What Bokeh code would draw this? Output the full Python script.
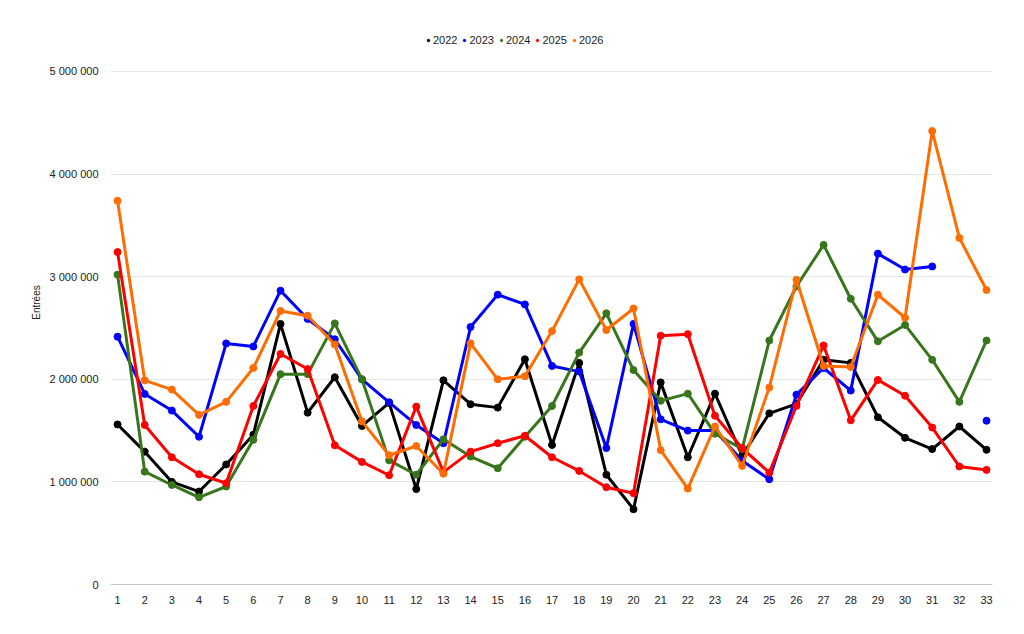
import numpy as np
from bokeh.plotting import figure
from bokeh.models import (ColumnDataSource, Legend, LegendItem, CustomJSTickFormatter,
                          FixedTicker, Range1d)
from bokeh.embed import file_html
from bokeh.resources import INLINE

weeks = list(range(1, 34))
years = ["2022", "2023", "2024", "2025", "2026"]
colors = ["#000000", "#0000ff", "#38761d", "#ff0000", "#ff6d01"]

s2022 = [1.56, 1.295, 1.0, 0.906, 1.17, 1.46, 2.54, 1.675, 2.02, 1.545, 1.77, 0.93, 1.99, 1.757, 1.724, 2.195, 1.36,
         2.16, 1.07, 0.734, 1.97, 1.24, 1.86, 1.255, 1.668, 1.76, 2.19, 2.16, 1.63, 1.43, 1.32, 1.54, 1.313]
s2023 = [2.415, 1.857, 1.695, 1.44, 2.35, 2.32, 2.864, 2.588, 2.39, 2.0, 1.776, 1.555, 1.377, 2.51, 2.825, 2.73, 2.13,
         2.075, 1.33, 2.54, 1.61, 1.50, 1.50, 1.205, 1.026, 1.85, 2.11, 1.89, 3.225, 3.07, 3.10, None, 1.596]
s2024 = [3.02, 1.10, 0.97, 0.85, 0.955, 1.41, 2.05, 2.05, 2.545, 2.0, 1.21, 1.07, 1.415, 1.247, 1.133, 1.44, 1.74,
         2.26, 2.643, 2.09, 1.79, 1.86, 1.47, 1.32, 2.378, 2.905, 3.31, 2.785, 2.37, 2.53, 2.19, 1.78, 2.378]
s2025 = [3.24, 1.555, 1.24, 1.075, 0.987, 1.74, 2.247, 2.10, 1.357, 1.195, 1.065, 1.734, 1.095, 1.295, 1.377, 1.45,
         1.24, 1.107, 0.948, 0.89, 2.425, 2.44, 1.645, 1.33, 1.09, 1.74, 2.33, 1.60, 1.994, 1.84, 1.53, 1.15, 1.117]
s2026 = [3.74, 1.99, 1.90, 1.653, 1.78, 2.11, 2.666, 2.62, 2.34, 1.59, 1.26, 1.35, 1.08, 2.35, 2.0, 2.03, 2.47,
         2.974, 2.48, 2.69, 1.31, 0.935, 1.54, 1.156, 1.92, 2.97, 2.13, 2.12, 2.824, 2.60, 4.42, 3.378, 2.87]
series = [s2022, s2023, s2024, s2025, s2026]
y_ticks = [0, 1000000, 2000000, 3000000, 4000000, 5000000]

FONT = "Liberation Sans"

# frame spans from legend area down to the zero line; 5 000 000 sits 51px below the frame top
p = figure(width=1008, height=618, output_backend="svg", toolbar_location=None,
           x_range=Range1d(0.74, 33.22), y_range=Range1d(0, 5497000),
           min_border_left=110, min_border_right=16, min_border_top=20, min_border_bottom=34)
p.outline_line_color = None
p.background_fill_color = "white"
p.border_fill_color = "white"

items = []
for yr, col, vals in zip(years, colors, series):
    yv = [np.nan if v is None else v * 1e6 for v in vals]
    src = ColumnDataSource(dict(x=weeks, y=yv))
    p.line("x", "y", source=src, line_color=col, line_width=3)
    r = p.scatter("x", "y", source=src, size=7, fill_color=col, line_color=col)
    items.append(LegendItem(label=yr, renderers=[r]))

# axes
p.xaxis.ticker = FixedTicker(ticks=weeks)
p.xaxis.major_tick_line_color = None
p.xaxis.minor_tick_line_color = None
p.xaxis.axis_line_color = "#c8c8c8"
p.xaxis.major_label_text_font = FONT
p.xaxis.major_label_text_font_size = "11px"
p.xaxis.major_label_text_color = "#222222"
p.xaxis.major_label_standoff = 5
p.xgrid.grid_line_color = None

p.yaxis.ticker = FixedTicker(ticks=y_ticks)
p.yaxis.formatter = CustomJSTickFormatter(code="""
return Math.round(tick).toString().replace(/\\B(?=(\\d{3})+(?!\\d))/g, ' ');
""")
p.yaxis.axis_line_color = None
p.yaxis.major_tick_line_color = None
p.yaxis.minor_tick_line_color = None
p.yaxis.major_label_text_font = FONT
p.yaxis.major_label_text_font_size = "11px"
p.yaxis.major_label_text_color = "#222222"
p.yaxis.major_label_standoff = 6
p.yaxis.axis_label = "Entrées"
p.yaxis.axis_label_text_font = FONT
p.yaxis.axis_label_text_font_size = "10px"
p.yaxis.axis_label_text_font_style = "normal"
p.yaxis.axis_label_text_color = "#222222"
p.yaxis.axis_label_standoff = 5
p.ygrid.grid_line_color = "#e6e6e6"
p.ygrid.grid_line_width = 1

legend = Legend(items=items, orientation="horizontal", location=(315, 538),
                glyph_width=6, glyph_height=6, label_standoff=2, spacing=4,
                label_text_font=FONT, label_text_font_size="11px", label_text_color="#222222",
                border_line_color=None, background_fill_alpha=0, padding=0, margin=0,
                label_height=12)
p.add_layout(legend, "center")

open("out.html", "w").write(file_html(p, INLINE))
